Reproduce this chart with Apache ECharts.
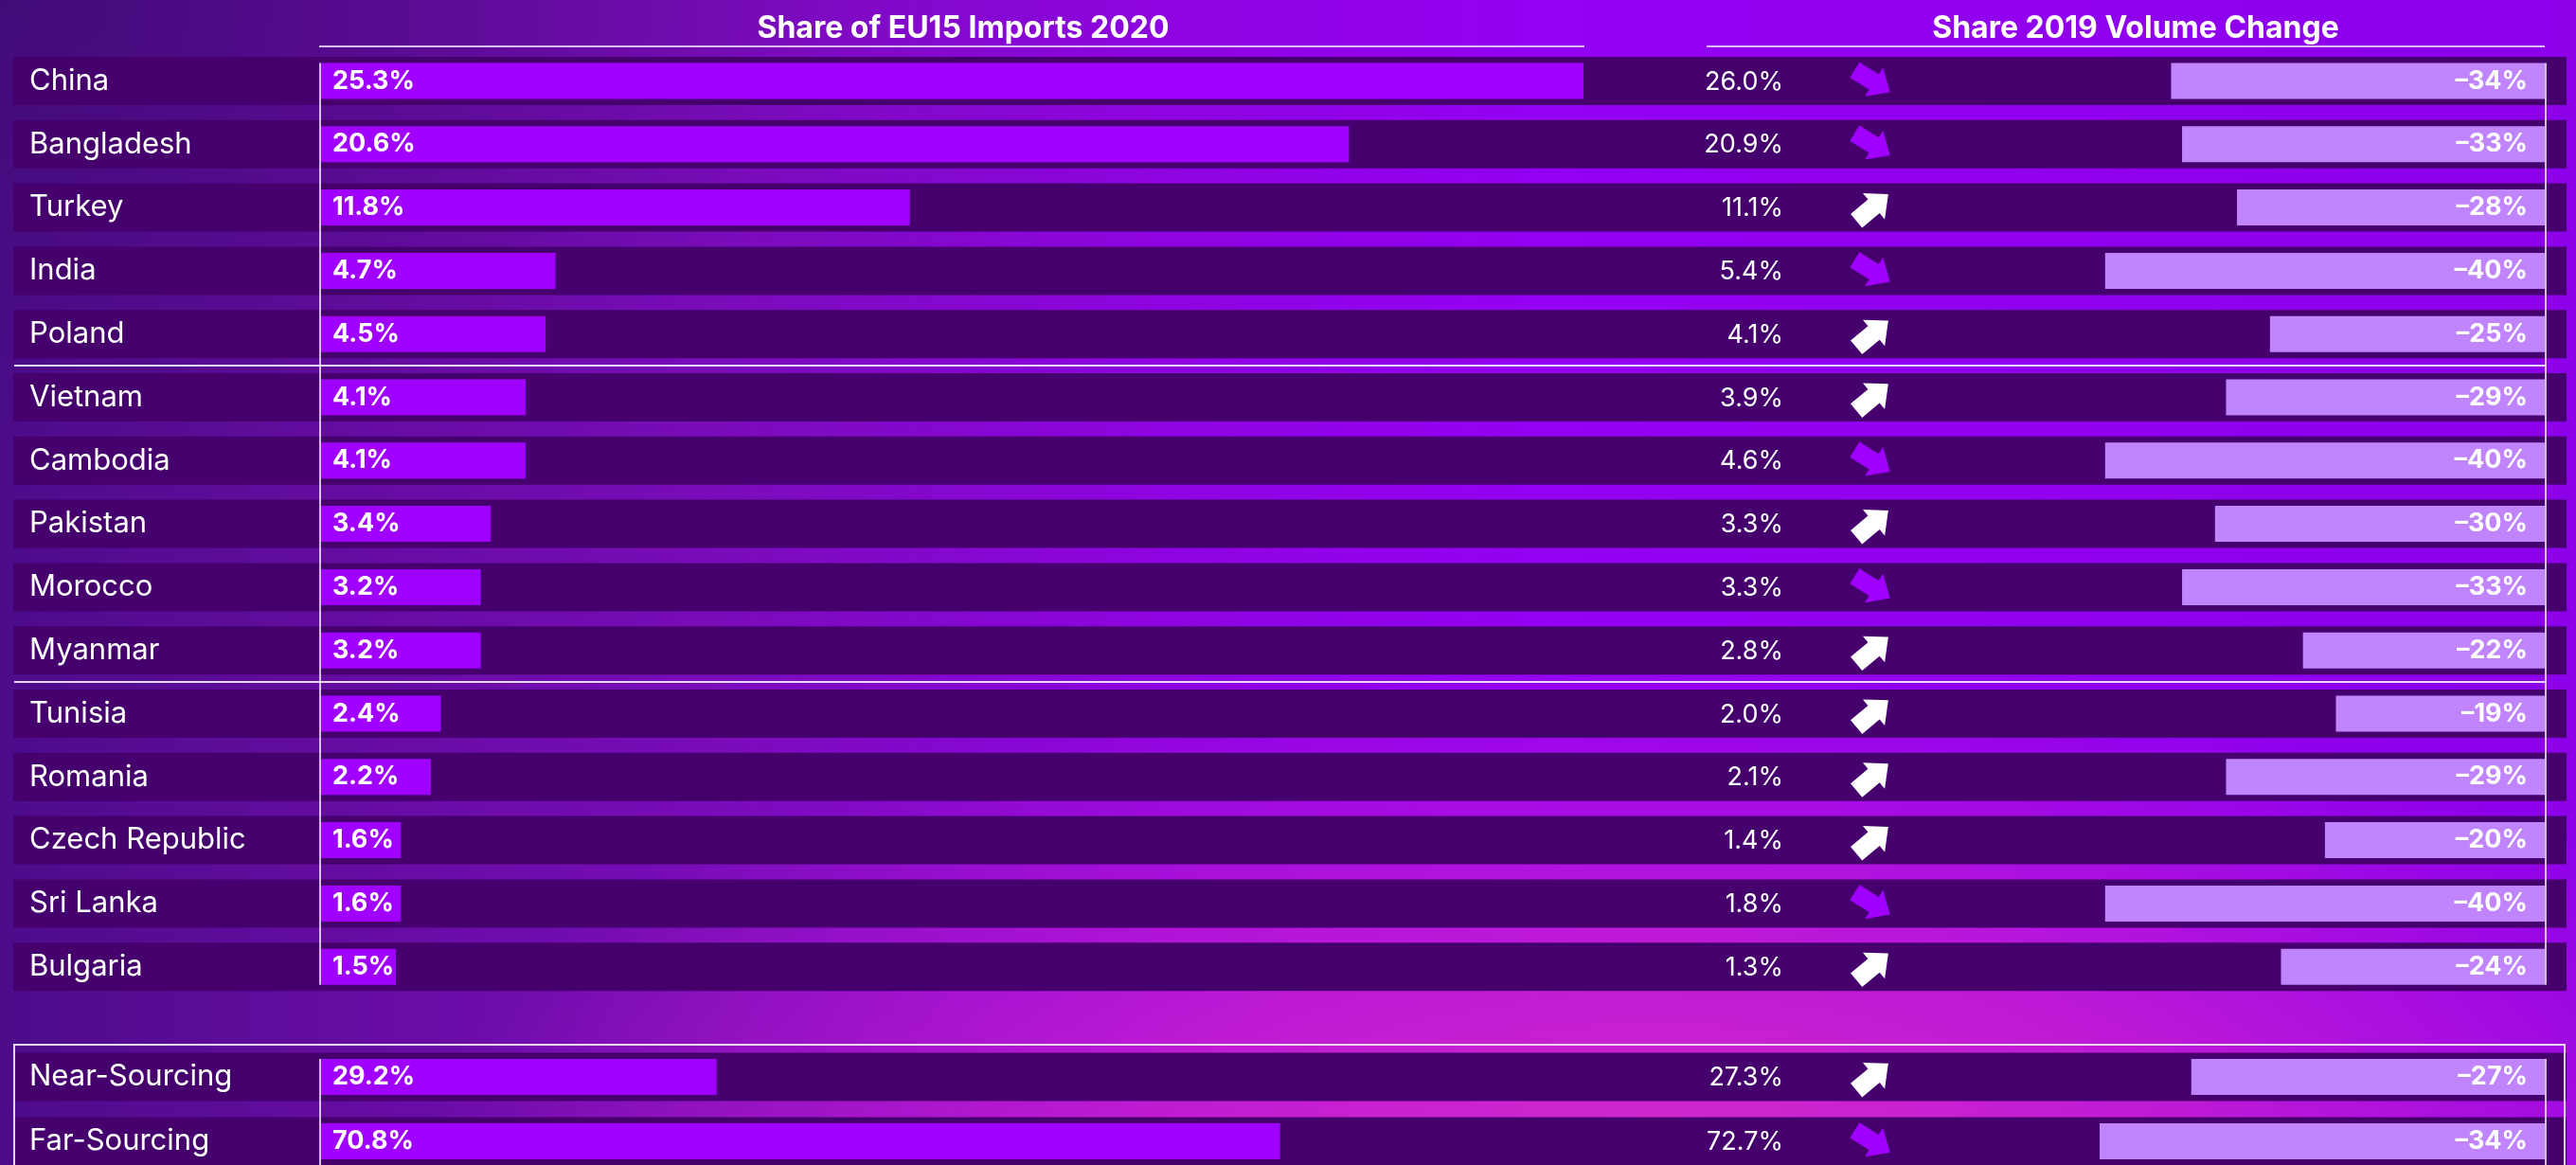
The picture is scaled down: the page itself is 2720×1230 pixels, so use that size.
<!DOCTYPE html>
<html><head><meta charset="utf-8">
<script src="https://cdn.jsdelivr.net/npm/echarts@6/dist/echarts.min.js"></script>
<style>
html,body{margin:0;padding:0;width:2720px;height:1230px;overflow:hidden;}
#chart{width:2720px;height:1230px;
background:
 radial-gradient(ellipse 1300px 520px at 1750px 1230px, rgba(214,44,200,0.95) 0%, rgba(205,34,206,0.75) 45%, rgba(190,20,220,0) 100%),
 radial-gradient(ellipse 900px 500px at 0px 0px, rgba(60,10,110,0.6) 0%, rgba(60,10,110,0) 100%),
 linear-gradient(90deg, #4c0c8a 0%, #620c9e 12%, #7a0cba 28%, #8e04e0 45%, #9400f2 60%, #8c00ea 100%);
}
</style></head><body><div id="chart"></div>
<script>
// ---- data ----
const countries = ['China','Bangladesh','Turkey','India','Poland','Vietnam','Cambodia','Pakistan','Morocco','Myanmar','Tunisia','Romania','Czech Republic','Sri Lanka','Bulgaria'];
const share2020 = [25.3,20.6,11.8,4.7,4.5,4.1,4.1,3.4,3.2,3.2,2.4,2.2,1.6,1.6,1.5];
const share2019 = [26.0,20.9,11.1,5.4,4.1,3.9,4.6,3.3,3.3,2.8,2.0,2.1,1.4,1.8,1.3];
const volumeChange = [-34,-33,-28,-40,-25,-29,-40,-30,-33,-22,-19,-29,-20,-40,-24];
const groups = ['Near-Sourcing','Far-Sourcing'];
const groupShare2020 = [29.2,70.8];
const groupShare2019 = [27.3,72.7];
const groupVolumeChange = [-27,-34];
const titles = ['Share of EU15 Imports 2020','Share 2019 Volume Change'];

// ---- layout / style ----
const TOP = 52.1, PITCH = 66.8;
const BTOP = 1103, BPITCH = 68;
const BAND_H = 51, BAR_H = 38;
const BAND = '#45006d', BAR1 = '#a000ff', BAR2 = '#c084fc';
const FONT = 'Inter, "Noto Sans", sans-serif';
const VALUE_X = 1883, ARROW_X = 1977;
const ARROW_PATH = 'M0 8.5 L24 8.5 L24 0 L44 18 L24 36 L24 27.5 L0 27.5 Z';
const nTop = countries.length, nBot = groups.length;

function rowRenderer(s2019, s2020) {
  return function (params, api) {
    const i = api.value(1);
    const c = api.coord([api.value(0), i]);
    const cs = params.coordSys;
    const cy = c[1];
    const up = s2020[i] > s2019[i];
    return {
      type: 'group',
      children: [
        {type: 'rect', shape: {x: cs.x, y: cy - BAND_H / 2, width: cs.width, height: BAND_H}, style: {fill: BAND}},
        {type: 'text', x: VALUE_X, y: cy + 1, style: {text: s2019[i].toFixed(1) + '%', align: 'right', verticalAlign: 'middle', fill: '#ffffff', fontSize: 27, fontFamily: FONT, fontWeight: 400}},
        {type: 'path', x: ARROW_X, y: cy, rotation: (up ? 40 : -32) * Math.PI / 180,
         shape: {pathData: ARROW_PATH, x: -22, y: -18, width: 44, height: 36},
         style: {fill: up ? '#ffffff' : BAR1}}
      ]
    };
  };
}

const grids = [
  {left: 14, width: 2696, top: TOP, height: PITCH * nTop},        // 0 bands top
  {left: 339, width: 1333, top: TOP, height: PITCH * nTop},       // 1 left bars top
  {left: 2217, width: 470, top: TOP, height: PITCH * nTop},       // 2 right bars top
  {left: 14, width: 2696, top: BTOP, height: BPITCH * nBot},      // 3 bands bottom
  {left: 339, width: 1333, top: BTOP, height: BPITCH * nBot},     // 4 left bars bottom
  {left: 2217, width: 470, top: BTOP, height: BPITCH * nBot}      // 5 right bars bottom
].map(g => Object.assign(g, {containLabel: false, outerBoundsMode: 'none'}));
const xMinMax = [[0, 100], [0, 25.3], [-40.5, 0], [0, 100], [0, 93.2], [-34, 0]];
const xAxes = grids.map((g, k) => ({type: 'value', gridIndex: k, min: xMinMax[k][0], max: xMinMax[k][1], show: false}));
const yAxes = grids.map((g, k) => {
  const cats = k < 3 ? countries : groups;
  const base = {type: 'category', gridIndex: k, data: cats, inverse: true};
  if (k === 0 || k === 3) {
    return Object.assign(base, {
      z: 20,
      axisLine: {show: false}, axisTick: {show: false}, splitLine: {show: false},
      axisLabel: {show: true, align: 'left', margin: -17, color: '#ffffff', fontSize: 31, fontFamily: FONT, fontWeight: 400}
    });
  }
  return Object.assign(base, {show: false});
});

const leftLabel = {show: true, position: 'insideLeft', distance: 12, color: '#ffffff', fontSize: 27, fontWeight: 'bold', fontFamily: FONT,
  formatter: p => p.value.toFixed(1) + '%'};
const rightLabel = {show: true, position: 'insideRight', distance: 18, color: '#ffffff', fontSize: 27, fontWeight: 'bold', fontFamily: FONT,
  formatter: p => '\u2013' + Math.abs(p.value) + '%'};

const series = [
  {type: 'custom', xAxisIndex: 0, yAxisIndex: 0, z: 1, renderItem: rowRenderer(share2019, share2020),
   data: share2019.map((v, i) => [v, countries[i]]), encode: {x: 0, y: 1}},
  {type: 'bar', xAxisIndex: 1, yAxisIndex: 1, z: 3, barWidth: BAR_H, data: share2020, itemStyle: {color: BAR1}, label: leftLabel},
  {type: 'bar', xAxisIndex: 2, yAxisIndex: 2, z: 3, barWidth: BAR_H, data: volumeChange, itemStyle: {color: BAR2}, label: rightLabel},
  {type: 'custom', xAxisIndex: 3, yAxisIndex: 3, z: 1, renderItem: rowRenderer(groupShare2019, groupShare2020),
   data: groupShare2019.map((v, i) => [v, groups[i]]), encode: {x: 0, y: 1}},
  {type: 'bar', xAxisIndex: 4, yAxisIndex: 4, z: 3, barWidth: BAR_H, data: groupShare2020, itemStyle: {color: BAR1}, label: leftLabel},
  {type: 'bar', xAxisIndex: 5, yAxisIndex: 5, z: 3, barWidth: BAR_H, data: groupVolumeChange, itemStyle: {color: BAR2}, label: rightLabel}
];

const LINE = 'rgba(240,228,255,0.95)';
const inset = (PITCH - BAR_H) / 2;
const graphic = [
  {type: 'text', x: 1017, y: 30, z: 10, style: {text: titles[0], align: 'center', verticalAlign: 'middle', fill: '#ffffff', fontSize: 32, fontWeight: 'bold', fontFamily: FONT}},
  {type: 'text', x: 2255, y: 30, z: 10, style: {text: titles[1], align: 'center', verticalAlign: 'middle', fill: '#ffffff', fontSize: 32, fontWeight: 'bold', fontFamily: FONT}},
  {type: 'line', z: 10, shape: {x1: 337, y1: 49, x2: 1673, y2: 49}, style: {stroke: 'rgba(230,210,255,0.9)', lineWidth: 2}},
  {type: 'line', z: 10, shape: {x1: 1802, y1: 49, x2: 2687, y2: 49}, style: {stroke: 'rgba(230,210,255,0.9)', lineWidth: 2}},
  {type: 'line', z: 10, shape: {x1: 338, y1: TOP + inset, x2: 338, y2: TOP + PITCH * nTop - inset}, style: {stroke: '#ffffff', lineWidth: 1.5}},
  {type: 'line', z: 10, shape: {x1: 2688, y1: TOP + inset, x2: 2688, y2: TOP + PITCH * nTop - inset}, style: {stroke: '#ffffff', lineWidth: 1.5}},
  {type: 'line', z: 10, shape: {x1: 15, y1: TOP + PITCH * 5, x2: 2687, y2: TOP + PITCH * 5}, style: {stroke: LINE, lineWidth: 2}},
  {type: 'line', z: 10, shape: {x1: 15, y1: TOP + PITCH * 10, x2: 2687, y2: TOP + PITCH * 10}, style: {stroke: LINE, lineWidth: 2}},
  {type: 'rect', z: 10, shape: {x: 15, y: BTOP, width: 2693, height: 200}, style: {fill: 'none', stroke: LINE, lineWidth: 2}},
  {type: 'line', z: 10, shape: {x1: 338, y1: BTOP + (BPITCH - BAR_H) / 2, x2: 338, y2: 1240}, style: {stroke: '#ffffff', lineWidth: 1.5}},
  {type: 'line', z: 10, shape: {x1: 2688, y1: BTOP + (BPITCH - BAR_H) / 2, x2: 2688, y2: 1240}, style: {stroke: '#ffffff', lineWidth: 1.5}}
];

const chart = echarts.init(document.getElementById('chart'), null, {renderer: 'canvas', devicePixelRatio: 1});
chart.setOption({
  animation: false,
  backgroundColor: 'transparent',
  grid: grids,
  xAxis: xAxes,
  yAxis: yAxes,
  series: series,
  graphic: graphic
});
</script></body></html>
